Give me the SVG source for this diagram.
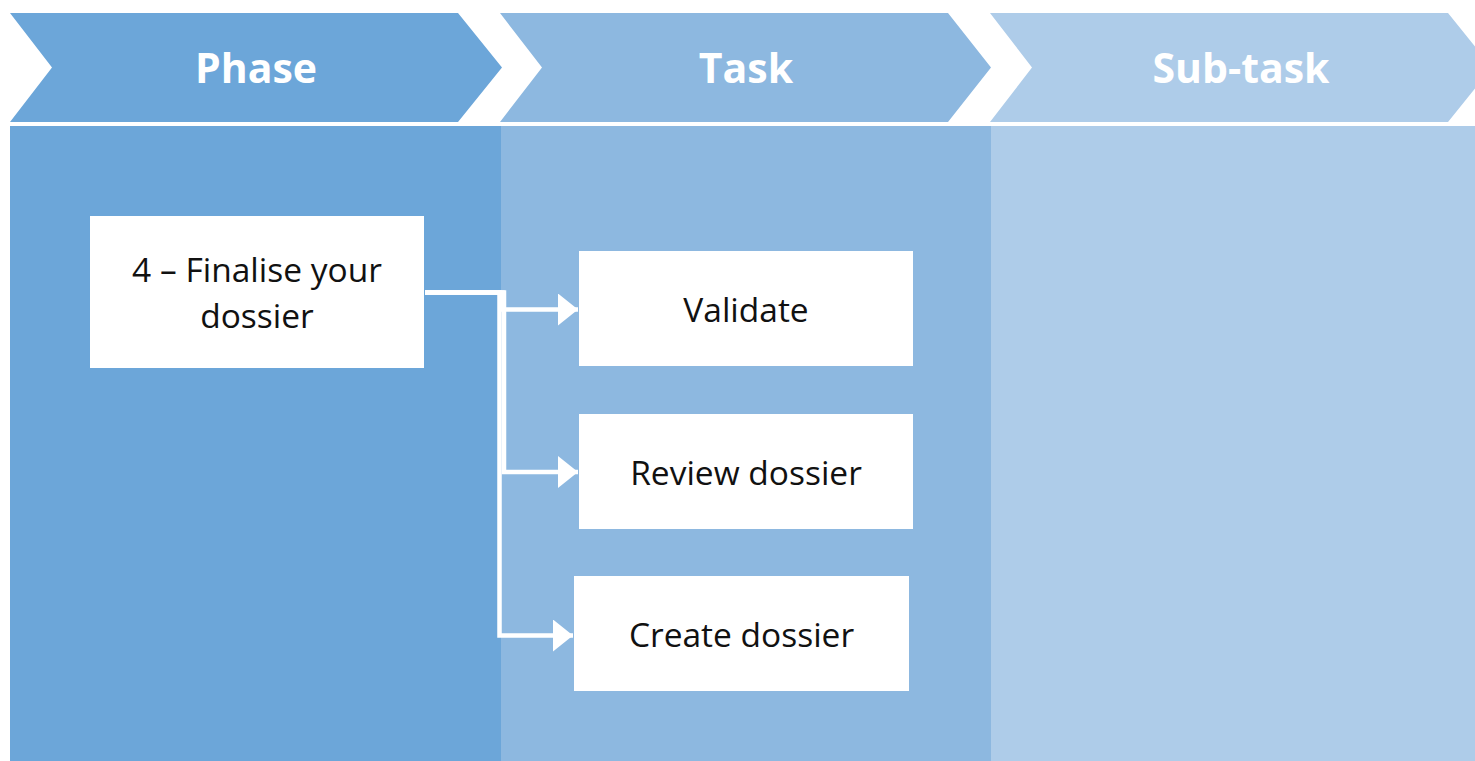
<svg xmlns="http://www.w3.org/2000/svg" width="1475" height="761" viewBox="0 0 1475 761">
<style>
.phase{fill:#6CA6D9}
.task{fill:#8DB8E0}
.sub{fill:#AECCE9}
.hdr{font-family:"Open Sans","Noto Sans",sans-serif;font-weight:bold;font-size:41px;fill:#FFFFFF;text-anchor:middle}
.box{fill:#FFFFFF}
.lbl{font-family:"Open Sans","Noto Sans",sans-serif;font-size:33.5px;fill:#111111;text-anchor:middle}
.conn{fill:none;stroke:#FFFFFF;stroke-width:4.5;marker-end:url(#arr)}
</style>
<defs>
<marker id="arr" markerUnits="userSpaceOnUse" markerWidth="20" markerHeight="32" refX="20" refY="16" orient="auto" viewBox="0 0 20 32">
<path d="M0,0 L20,16 L0,32 Z" fill="#FFFFFF"/>
</marker>
</defs>
<rect width="1475" height="761" fill="#FFFFFF"/>
<g id="columns">
<rect class="phase" x="10" y="126" width="491" height="635"/>
<rect class="task" x="501" y="126" width="490" height="635"/>
<rect class="sub" x="991" y="126" width="484" height="635"/>
</g>
<g id="header-phase">
<polygon class="phase" points="10,13 458,13 502,67.5 458,122 10,122 52,67.5"/>
<text class="hdr" x="256" y="83">Phase</text>
</g>
<g id="header-task">
<polygon class="task" points="500,13 948,13 991,67.5 948,122 500,122 542,67.5"/>
<text class="hdr" x="746" y="83">Task</text>
</g>
<g id="header-subtask">
<polygon class="sub" points="990,13 1448,13 1492,67.5 1448,122 990,122 1032,67.5"/>
<text class="hdr" x="1241" y="83">Sub-task</text>
</g>
<g id="connectors">
<path class="conn" d="M425,292.5 H502.5 V309.5 H578"/>
<path class="conn" d="M425,292.5 H504 V472 H578"/>
<path class="conn" d="M425,292.5 H499.5 V635.5 H573"/>
</g>
<g id="node-finalise">
<rect class="box" x="90" y="216" width="334" height="152"/>
<text class="lbl" x="257" y="282">4 – Finalise your</text>
<text class="lbl" x="257" y="328">dossier</text>
</g>
<g id="node-validate">
<rect class="box" x="579" y="251" width="334" height="115"/>
<text class="lbl" x="746" y="322">Validate</text>
</g>
<g id="node-review">
<rect class="box" x="579" y="414" width="334" height="115"/>
<text class="lbl" x="746" y="485">Review dossier</text>
</g>
<g id="node-create">
<rect class="box" x="574" y="576" width="335" height="115"/>
<text class="lbl" x="741.5" y="647">Create dossier</text>
</g>
</svg>
